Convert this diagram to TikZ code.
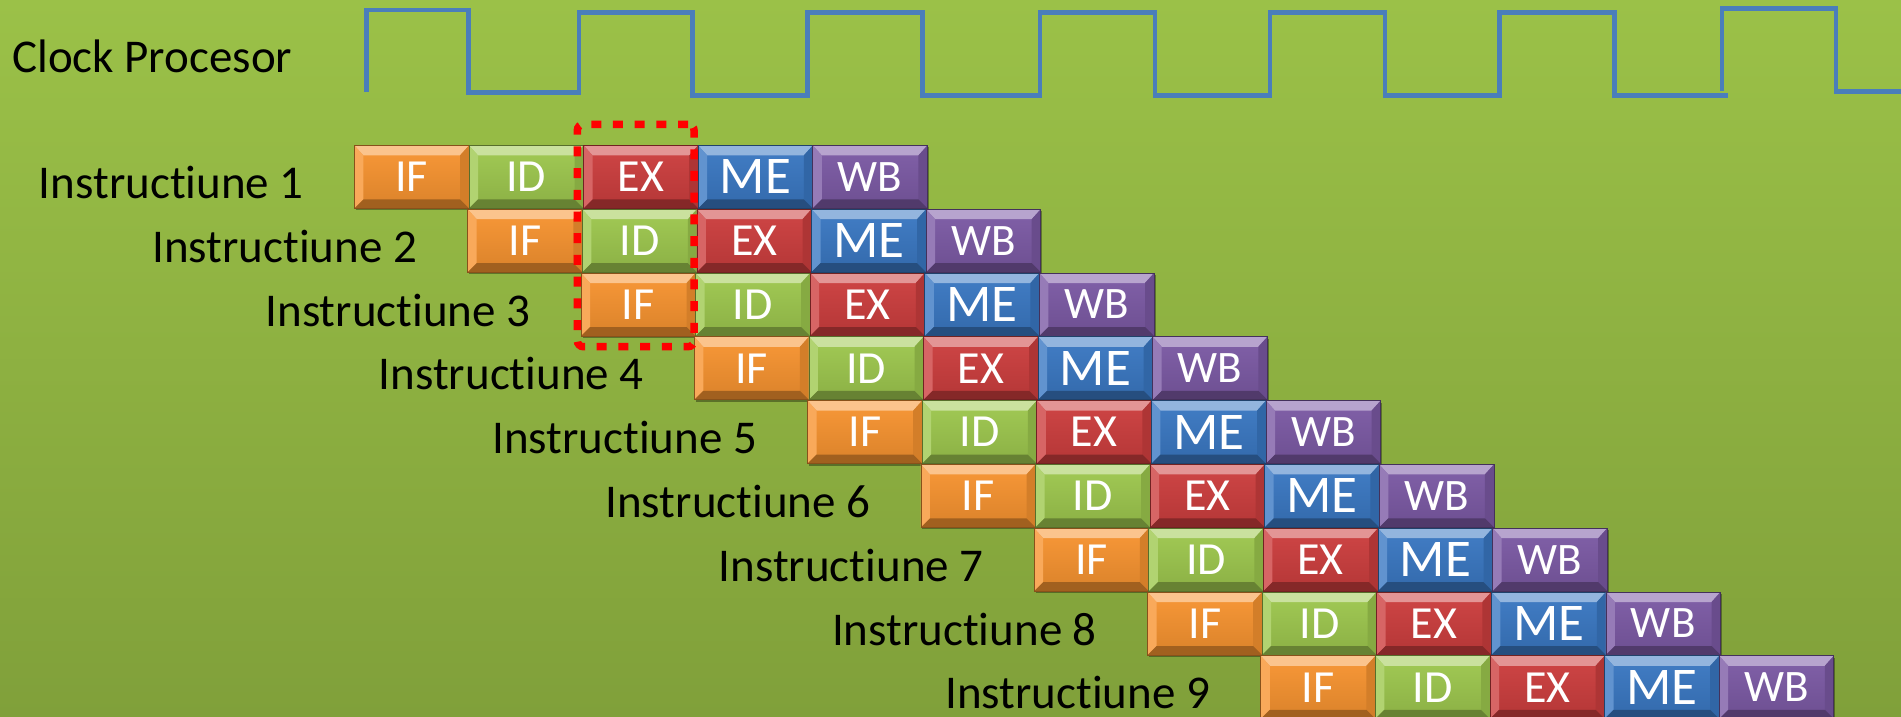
\documentclass[tikz,border=0pt]{standalone}
\usepackage{fontspec}
\setmainfont{Carlito}[Ligatures=NoCommon]
\usetikzlibrary{shadows}
\definecolor{bgtop}{RGB}{155,193,72}
\definecolor{bgbot}{RGB}{128,160,58}
\definecolor{clk}{RGB}{74,126,187}
\definecolor{cIF}{RGB}{248,148,48}
\definecolor{cID}{RGB}{158,200,78}
\definecolor{cEX}{RGB}{205,62,62}
\definecolor{cME}{RGB}{58,120,195}
\definecolor{cWB}{RGB}{124,90,165}
\tikzset{
  lab/.style={text=black, inner sep=0pt, font=\fontsize{47}{56}\selectfont},
  stagebox/.style={rectangle, anchor=north west, minimum width=114.6pt, minimum height=63pt,
    inner sep=0pt, text=white,
    top color=#1!96!white, bottom color=#1!88!black, draw=#1!55!black, line width=0.8pt,
    drop shadow={shadow xshift=1.5pt, shadow yshift=-2pt, opacity=0.35, fill=black},
    path picture={
      \fill[#1!55!white] (path picture bounding box.north west) -- (path picture bounding box.north east)
        -- ([xshift=-9pt,yshift=-10pt]path picture bounding box.north east)
        -- ([xshift=9pt,yshift=-10pt]path picture bounding box.north west) -- cycle;
      \fill[#1!80!white] (path picture bounding box.north west) -- ([xshift=9pt,yshift=-10pt]path picture bounding box.north west)
        -- ([xshift=9pt,yshift=9pt]path picture bounding box.south west) -- (path picture bounding box.south west) -- cycle;
      \fill[#1!85!black] (path picture bounding box.north east) -- ([xshift=-9pt,yshift=-10pt]path picture bounding box.north east)
        -- ([xshift=-9pt,yshift=9pt]path picture bounding box.south east) -- (path picture bounding box.south east) -- cycle;
      \fill[#1!65!black] (path picture bounding box.south west) -- ([xshift=9pt,yshift=9pt]path picture bounding box.south west)
        -- ([xshift=-9pt,yshift=9pt]path picture bounding box.south east) -- (path picture bounding box.south east) -- cycle;
    }},
  selbox/.style={draw=red, line width=7.5pt, dash pattern=on 10pt off 11.7pt, rounded corners=6pt,
    inner sep=0pt, fill=none},
  clockline/.style={draw=clk, line width=4.7pt}
}
\begin{document}
\begin{tikzpicture}[x=1pt, y=-1pt]
\useasboundingbox (0,0) rectangle (1901,717);
\shade[top color=bgtop, bottom color=bgbot] (0,0) rectangle (1901,717);
% clock
\node[lab, anchor=base west] (clocklab) at (12,73) {Clock Procesor};
\draw[clockline] (366.7,91.7) -- (366.7,10) -- (468.3,10) -- (468.3,92.7) -- (579,92.7) -- (579,12.7)
  -- (692.3,12.7) -- (692.3,95.7) -- (807.7,95.7) -- (807.7,12.7) -- (922.7,12.7) -- (922.7,95.7)
  -- (1040,95.7) -- (1040,12.7) -- (1155,12.7) -- (1155,95.7) -- (1270,95.7) -- (1270,12.7)
  -- (1385,12.7) -- (1385,95.7) -- (1499.3,95.7) -- (1499.3,12.7) -- (1614.3,12.7) -- (1614.3,95.7)
  -- (1728,95.7);
\draw[clockline] (1722,90.7) -- (1722,8.3) -- (1836,8.3) -- (1836,91.7) -- (1901,91.7);
% instructions
\foreach \r in {1,...,9}{
  \pgfmathsetmacro{\xo}{354+(\r-1)*113.3}
  \pgfmathsetmacro{\yo}{145+(\r-1)*63.8}
  \node[lab, anchor=base east] (lab\r) at (\xo-50,\yo+53.5) {Instructiune \r};
  \foreach \s/\col/\fs [count=\c from 0] in {IF/cIF/46, ID/cID/46, EX/cEX/46, ME/cME/53, WB/cWB/45}{
    \node[stagebox=\col, font=\fontsize{\fs}{\fs}\selectfont] (s\r\s) at ({\xo+\c*114.6},\yo) {\s};
  }
}
% selection
\node[selbox, minimum width=116.7pt, minimum height=222.4pt] (sel) at (635.7,235.5) {};
\end{tikzpicture}
\end{document}
